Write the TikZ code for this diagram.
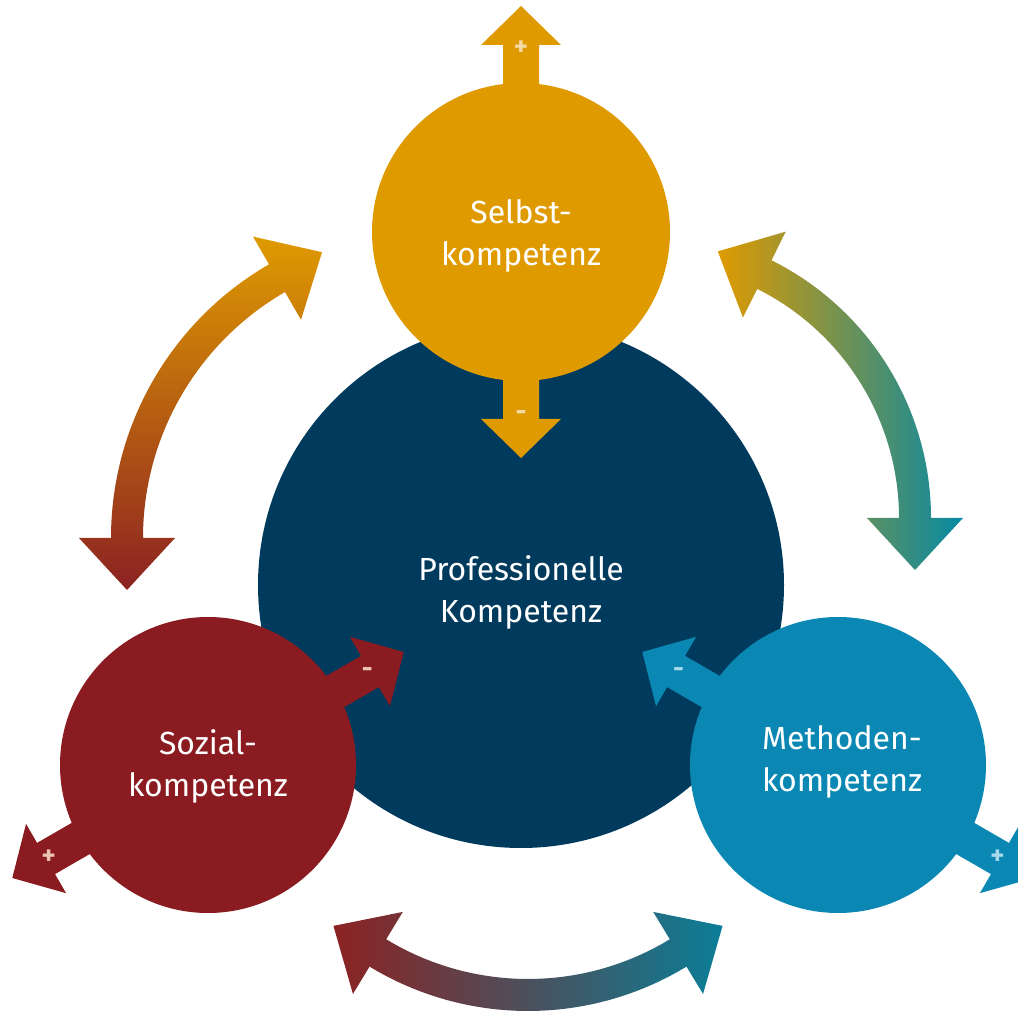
\documentclass[tikz,border=0pt]{standalone}
\usepackage{fontspec}
\setmainfont{Fira Sans}
\definecolor{navy}{HTML}{003A5D}
\definecolor{korange}{HTML}{DF9A00}
\definecolor{kred}{HTML}{8A1B20}
\definecolor{kblue}{HTML}{0A88B3}
\definecolor{arcred}{HTML}{8C2222}
\definecolor{arcteal}{HTML}{068AA4}
\definecolor{arcteal2}{HTML}{0B7E97}
\definecolor{plusor}{HTML}{F4DAA4}
\definecolor{plusred}{HTML}{EBC3B3}
\definecolor{plusbl}{HTML}{A8D9EA}
\newcommand{\kaw}{16}
\newcommand{\kah}{48}
\newcommand{\kal}{52}
% curved double arrow: #1 shading opts, #2 centre, #3 radius, #4 start angle, #5 end angle (ccw)
\newcommand{\dblarc}[5]{%
\shade[#1, shift={#2}]
 ({#4}:{#3+\kaw}) arc[start angle=#4, end angle=#5, radius=#3+\kaw]
 -- ({#5}:{#3+\kah}) -- ({#5+atan(\kal/#3)}:{#3*sqrt(1+(\kal/#3)^2)})
 -- ({#5}:{#3-\kah}) -- ({#5}:{#3-\kaw})
 arc[start angle=#5, end angle=#4, radius=#3-\kaw]
 -- ({#4}:{#3-\kah}) -- ({#4-atan(\kal/#3)}:{#3*sqrt(1+(\kal/#3)^2)})
 -- ({#4}:{#3+\kah}) -- cycle;}
% straight double arrow: #1 colour, #2 centre, #3 angle of + end, #4 sign colour, #5 name prefix
\newcommand{\dblstraight}[5]{%
\begin{scope}[shift={#2}, rotate=#3]
\fill[#1] (-226,0) -- (-187,40) -- (-187,18) -- (187,18) -- (187,40) -- (226,0)
 -- (187,-40) -- (187,-18) -- (-187,-18) -- (-187,-40) -- cycle;
\node[sign, text=#4] (#5plus) at (184,0) {+};
\node[sign, text=#4] (#5minus) at (-184,0) {-};
\end{scope}}
\begin{document}
\begin{tikzpicture}[x=0.75pt, y=0.75pt,
  comp/.style={circle, inner sep=0pt},
  lbl/.style={text=white, align=center, inner sep=0pt,
    font=\fontsize{24}{31.5}\selectfont},
  sign/.style={inner sep=0pt, font=\fontsize{20}{20}\selectfont\bfseries}]
\useasboundingbox (0,0) rectangle (1018,1011);
\clip (0,0) rectangle (1018,1011);

% curved arrows
\dblarc{top color=korange, bottom color=arcred}{(427,473)}{300}{120}{180}
\dblarc{left color=korange, right color=arcteal}{(643,493)}{272}{0}{63.5}
\dblarc{left color=arcred, right color=arcteal2}{(528,305)}{289}{238.7}{301.3}

% circles
\node[comp, fill=navy, minimum size=394.5pt] (prof) at (521,426) {};
\node[comp, fill=korange, minimum size=223.5pt] (selbst) at (521,779) {};
\node[comp, fill=kred, minimum size=222pt] (sozial) at (208,246) {};
\node[comp, fill=kblue, minimum size=222pt] (methode) at (838,246) {};

% straight arrows
\dblstraight{korange}{(selbst.center)}{90}{plusor}{s}
\dblstraight{kred}{(sozial.center)}{210}{plusred}{r}
\dblstraight{kblue}{(methode.center)}{-30}{plusbl}{b}

% labels
\node[lbl] (lprof) at (521,419) {Professionelle\\Kompetenz};
\node[lbl] (lselbst) at (521,775) {Selbst-\\kompetenz};
\node[lbl] (lsozial) at (208,245) {Sozial-\\kompetenz};
\node[lbl] (lmethode) at (842,249) {Methoden-\\kompetenz};
\end{tikzpicture}
\end{document}
